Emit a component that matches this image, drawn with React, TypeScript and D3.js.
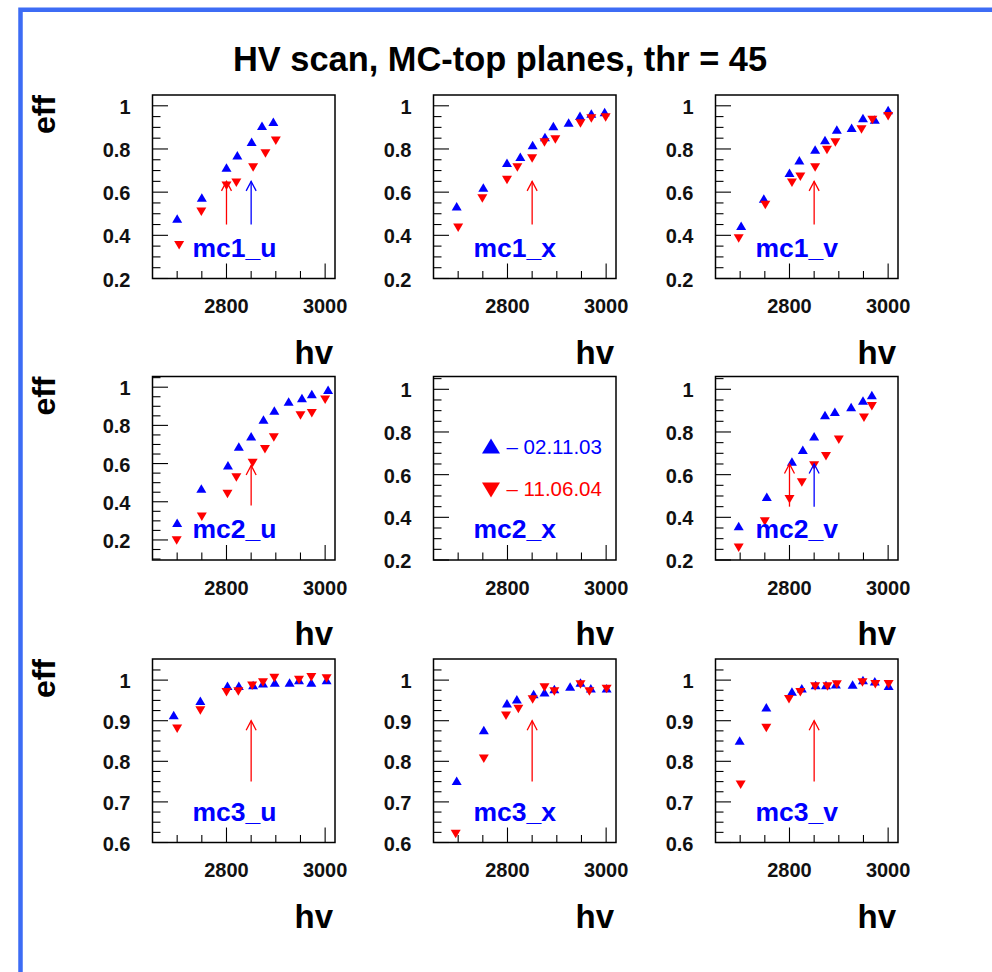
import React from 'react';
import * as d3 from 'd3';

const W = 992;
const H = 972;
const FONT = '"Liberation Sans", Arial, Helvetica, sans-serif';

// HV scan, [hv, efficiency] pairs. Series A = 02.11.03 (blue), series B = 11.06.04 (red)
const mc1_u_A = [[2700, 0.478], [2750, 0.575], [2800, 0.714], [2822, 0.771], [2851, 0.833], [2872, 0.907], [2895, 0.926]];
const mc1_u_B = [[2704, 0.354], [2749, 0.509], [2800, 0.63], [2820, 0.643], [2854, 0.714], [2879, 0.779], [2900, 0.838]];

const mc1_x_A = [[2697, 0.535], [2751, 0.622], [2799, 0.736], [2826, 0.764], [2851, 0.818], [2876, 0.856], [2893, 0.906], [2924, 0.923], [2947, 0.954], [2970, 0.964], [2997, 0.971]];
const mc1_x_B = [[2700, 0.435], [2749, 0.571], [2799, 0.656], [2820, 0.714], [2850, 0.756], [2875, 0.83], [2897, 0.844], [2948, 0.918], [2970, 0.941], [2999, 0.946]];

const mc1_v_A = [[2702, 0.444], [2748, 0.571], [2800, 0.69], [2820, 0.748], [2852, 0.798], [2872, 0.841], [2896, 0.89], [2926, 0.898], [2949, 0.944], [2973, 0.937], [3000, 0.98]];
const mc1_v_B = [[2697, 0.385], [2751, 0.54], [2805, 0.643], [2822, 0.671], [2852, 0.714], [2876, 0.795], [2893, 0.83], [2946, 0.89], [2968, 0.934], [3000, 0.952]];

const mc2_u_A = [[2700, 0.29], [2749, 0.47], [2803, 0.591], [2825, 0.69], [2850, 0.743], [2875, 0.831], [2897, 0.878], [2926, 0.925], [2953, 0.943], [2973, 0.965], [3006, 0.986]];
const mc2_u_B = [[2699, 0.197], [2750, 0.322], [2802, 0.44], [2820, 0.527], [2853, 0.603], [2878, 0.675], [2896, 0.736], [2950, 0.852], [2973, 0.864], [3000, 0.934]];

const mc2_x_A: number[][] = [];
const mc2_x_B: number[][] = [];

const mc2_v_A = [[2697, 0.359], [2754, 0.497], [2805, 0.662], [2827, 0.717], [2850, 0.78], [2872, 0.879], [2892, 0.895], [2925, 0.917], [2949, 0.948], [2967, 0.973]];
const mc2_v_B = [[2697, 0.257], [2750, 0.38], [2800, 0.485], [2825, 0.563], [2850, 0.643], [2874, 0.686], [2900, 0.764], [2951, 0.867], [2967, 0.921]];

const mc3_u_A = [[2693, 0.914], [2747, 0.949], [2802, 0.986], [2825, 0.986], [2854, 0.988], [2874, 0.992], [2898, 0.994], [2928, 0.994], [2947, 1.0], [2972, 0.994], [3003, 1.0]];
const mc3_u_B = [[2700, 0.88], [2747, 0.925], [2800, 0.97], [2824, 0.972], [2852, 0.986], [2874, 0.994], [2897, 1.005], [2947, 1.0], [2972, 1.007], [3003, 1.004]];

const mc3_x_A = [[2697, 0.752], [2752, 0.877], [2799, 0.943], [2819, 0.953], [2853, 0.966], [2875, 0.97], [2895, 0.978], [2927, 0.984], [2948, 0.994], [2969, 0.98], [3001, 0.98]];
const mc3_x_B = [[2695, 0.621], [2752, 0.806], [2797, 0.912], [2822, 0.929], [2851, 0.952], [2875, 0.982], [2895, 0.972], [2948, 0.989], [2966, 0.972], [3001, 0.978]];

const mc3_v_A = [[2699, 0.851], [2753, 0.933], [2805, 0.972], [2825, 0.98], [2853, 0.988], [2874, 0.988], [2894, 0.99], [2928, 0.989], [2949, 1.0], [2973, 0.997], [3001, 0.986]];
const mc3_v_B = [[2701, 0.742], [2753, 0.882], [2799, 0.953], [2822, 0.97], [2852, 0.984], [2877, 0.984], [2896, 0.989], [2948, 0.994], [2974, 0.99], [3001, 0.99]];

// Operating-point arrows: [hv, eff from, eff to, series]
const mc1_u_arrows = [[2800, 0.45, 0.65, 'B'], [2850, 0.45, 0.65, 'A']];
const mc1_x_arrows = [[2850, 0.45, 0.65, 'B']];
const mc1_v_arrows = [[2850, 0.45, 0.65, 'B']];
const mc2_u_arrows = [[2850, 0.38, 0.59, 'B']];
const mc2_x_arrows: any[] = [];
const mc2_v_arrows = [[2800, 0.45, 0.65, 'B'], [2850, 0.45, 0.65, 'A']];
const mc3_u_arrows = [[2850, 0.75, 0.9, 'B']];
const mc3_x_arrows = [[2850, 0.75, 0.9, 'B']];
const mc3_v_arrows = [[2850, 0.75, 0.9, 'B']];

const PLANE_NAMES = ['mc1_u', 'mc1_x', 'mc1_v', 'mc2_u', 'mc2_x', 'mc2_v', 'mc3_u', 'mc3_x', 'mc3_v'];
const Y_RANGES = [
  [0.2, 1.05], [0.2, 1.05], [0.2, 1.05],
  [0.095, 1.056], [0.2, 1.06], [0.2, 1.06],
  [0.6, 1.052], [0.6, 1.052], [0.6, 1.052],
];
const HV_RANGE = [2650, 3020];
const HV_TICKS = [2700, 2750, 2800, 2850, 2900, 2950, 3000];
const HV_LABELS = [2800, 3000];
const LEGEND_LABELS = ['– 02.11.03', '– 11.06.04'];
const TITLE = 'HV scan, MC-top planes, thr = 45';

const SERIES_A = [mc1_u_A, mc1_x_A, mc1_v_A, mc2_u_A, mc2_x_A, mc2_v_A, mc3_u_A, mc3_x_A, mc3_v_A];
const SERIES_B = [mc1_u_B, mc1_x_B, mc1_v_B, mc2_u_B, mc2_x_B, mc2_v_B, mc3_u_B, mc3_x_B, mc3_v_B];
const ARROWS = [mc1_u_arrows, mc1_x_arrows, mc1_v_arrows, mc2_u_arrows, mc2_x_arrows, mc2_v_arrows, mc3_u_arrows, mc3_x_arrows, mc3_v_arrows];

// layout of the 3x3 frames
const COL_X = [152.5, 433.5, 715.5];
const ROW_Y = [95, 376.5, 659];
const FW = 182.5;
const FH = 183.5;

const BLUE = '#0000ff';
const RED = '#ff0000';
const colorOf = (s: string) => (s === 'A' ? BLUE : RED);

function triangle(cx: number, cy: number, up: boolean, w: number, h: number) {
  const hw = w / 2, hh = h / 2;
  return up
    ? `M${cx - hw},${cy + hh}L${cx + hw},${cy + hh}L${cx},${cy - hh}Z`
    : `M${cx - hw},${cy - hh}L${cx + hw},${cy - hh}L${cx},${cy + hh}Z`;
}

function yTicks(lo: number, hi: number, major: number) {
  const minor = major / 4;
  const out: { v: number; major: boolean }[] = [];
  const start = Math.ceil(lo / minor - 1e-6);
  for (let k = start; k * minor <= hi + 1e-6; k++) {
    const v = +(k * minor).toFixed(4);
    const isMajor = Math.abs(v / major - Math.round(v / major)) < 1e-6;
    out.push({ v, major: isMajor });
  }
  return out;
}

function Panel({ idx }: { idx: number }) {
  const col = idx % 3;
  const row = Math.floor(idx / 3);
  const x0 = COL_X[col];
  const y0 = ROW_Y[row];
  const [lo, hi] = Y_RANGES[idx];
  const x = d3.scaleLinear().domain(HV_RANGE).range([x0, x0 + FW]);
  const y = d3.scaleLinear().domain([lo, hi]).range([y0 + FH, y0]);
  const majorStep = row === 2 ? 0.1 : 0.2;
  const ticks = yTicks(lo, hi, majorStep).filter((t) => y(t.v) >= y0 + 1 && y(t.v) <= y0 + FH + 0.5);
  const fmt = (v: number) => (Math.abs(v - 1) < 1e-9 ? '1' : v.toFixed(1));
  const bottom = y0 + FH;

  return (
    <g>
      {/* y ticks and labels */}
      {ticks.map((t, i) => (
        <line key={'yt' + i} x1={x0} x2={x0 + (t.major ? 15.5 : 8)} y1={y(t.v)} y2={y(t.v)} stroke="#000" strokeWidth={1.1} />
      ))}
      {ticks.filter((t) => t.major).map((t, i) => (
        <text key={'yl' + i} x={x0 - 22} y={y(t.v) + 8} textAnchor="end" fontFamily={FONT} fontWeight="bold" fontSize={20} fill="#111">
          {fmt(t.v)}
        </text>
      ))}
      {/* x ticks and labels */}
      {HV_TICKS.map((v) => (
        <line key={'xt' + v} x1={x(v)} x2={x(v)} y1={bottom} y2={bottom - (v % 200 === 0 ? 15 : 7.5)} stroke="#000" strokeWidth={1.1} />
      ))}
      {HV_LABELS.map((v) => (
        <text key={'xl' + v} x={x(v)} y={bottom + 34.5} textAnchor="middle" fontFamily={FONT} fontWeight="bold" fontSize={20} fill="#111">
          {v}
        </text>
      ))}
      {/* axis titles */}
      <text x={x0 + FW - 2} y={bottom + 85} textAnchor="end" fontFamily={FONT} fontWeight="bold" fontSize={33} fill="#000">hv</text>
      {col === 0 && (
        <text transform={`translate(55,${y0}) rotate(-90)`} textAnchor="end" fontFamily={FONT} fontWeight="bold" fontSize={32} fill="#000">eff</text>
      )}
      {/* data */}
      {SERIES_A[idx].map((d, i) => (
        <path key={'a' + i} d={triangle(x(d[0]), y(d[1]), true, 10, 8.5)} fill={BLUE} />
      ))}
      {SERIES_B[idx].map((d, i) => (
        <path key={'b' + i} d={triangle(x(d[0]), y(d[1]), false, 10, 8.5)} fill={RED} />
      ))}
      {/* arrows */}
      {ARROWS[idx].map((a: any, i: number) => {
        const ax = x(a[0]);
        const yb = y(a[1]);
        const yt = y(a[2]);
        const c = colorOf(a[3]);
        return (
          <g key={'ar' + i} stroke={c} strokeWidth={1.3} fill="none">
            <line x1={ax} x2={ax} y1={yb} y2={yt} />
            <path d={`M${ax - 5},${yt + 9.5}L${ax},${yt}L${ax + 5},${yt + 9.5}`} />
          </g>
        );
      })}
      {/* legend (middle panel) */}
      {idx === 4 && (
        <g>
          <path d={triangle(x0 + 57.5, y0 + 69.5, true, 18, 15)} fill={BLUE} />
          <text x={x0 + 73} y={y0 + 77} fontFamily={FONT} fontSize={20.5} fill={BLUE}>{LEGEND_LABELS[0]}</text>
          <path d={triangle(x0 + 57.5, y0 + 113.5, false, 18, 15)} fill={RED} />
          <text x={x0 + 73} y={y0 + 119.5} fontFamily={FONT} fontSize={20.5} fill={RED}>{LEGEND_LABELS[1]}</text>
        </g>
      )}
      {/* plane name */}
      <text x={x0 + 40} y={bottom - 22} fontFamily={FONT} fontWeight="bold" fontSize={26.5} fill={BLUE}>{PLANE_NAMES[idx]}</text>
      {/* frame */}
      <rect x={x0} y={y0} width={FW} height={FH} fill="none" stroke="#000" strokeWidth={1.5} />
    </g>
  );
}

export default function App() {
  return (
    <svg width={W} height={H} style={{ position: 'absolute', left: 0, top: 0, background: '#fff' }}>
      <rect x={0} y={0} width={W} height={H} fill="#fff" />
      <path d={`M20.5,${H}V9.7H${W}`} fill="none" stroke="#3d6cf5" strokeWidth={4.5} />
      <text x={500} y={71} textAnchor="middle" fontFamily={FONT} fontWeight="bold" fontSize={34.4} fill="#000">{TITLE}</text>
      {PLANE_NAMES.map((_, i) => (
        <Panel key={i} idx={i} />
      ))}
    </svg>
  );
}
